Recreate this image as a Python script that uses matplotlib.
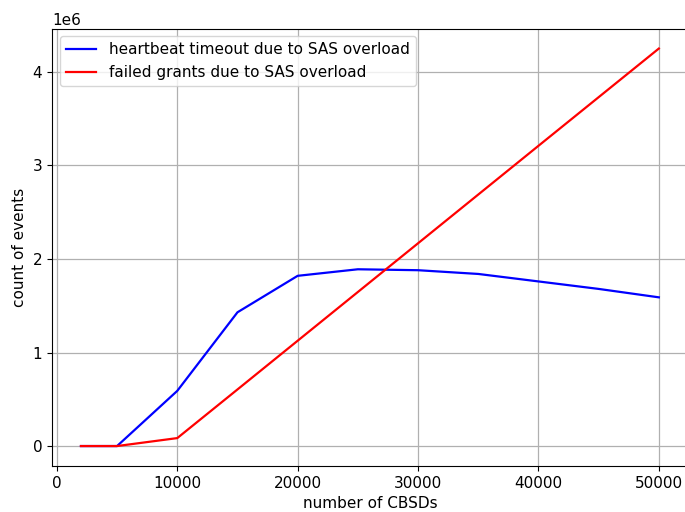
import numpy as np
import matplotlib
matplotlib.use('Agg')
from matplotlib import pyplot as plt

matplotlib.rcParams['font.size'] = 11

cbsds = [2000, 5000, 10000, 15000, 20000, 25000, 30000, 35000, 40000, 45000, 50000]
heartbeat = [0.0, 0.0, 0.59e6, 1.43e6, 1.82e6, 1.89e6, 1.88e6, 1.84e6, 1.76e6, 1.68e6, 1.59e6]
grants = [0.0, 0.0, 0.085e6, 0.605e6, 1.126e6, 1.647e6, 2.168e6, 2.689e6, 3.21e6, 3.73e6, 4.25e6]

fig = plt.figure(figsize=(6.85, 5.12), dpi=100)
ax = fig.add_subplot(111)
fig.subplots_adjust(left=0.076, right=1.004, top=0.944, bottom=0.09)

ax.plot(cbsds, heartbeat, color='b', lw=1.6, label='heartbeat timeout due to SAS overload')
ax.plot(cbsds, grants, color='r', lw=1.6, label='failed grants due to SAS overload')

ax.set_xlabel('number of CBSDs')
ax.set_ylabel('count of events')
ax.grid(True, lw=0.9)
ax.legend(loc='upper left')

plt.savefig('out.png', dpi=100)
